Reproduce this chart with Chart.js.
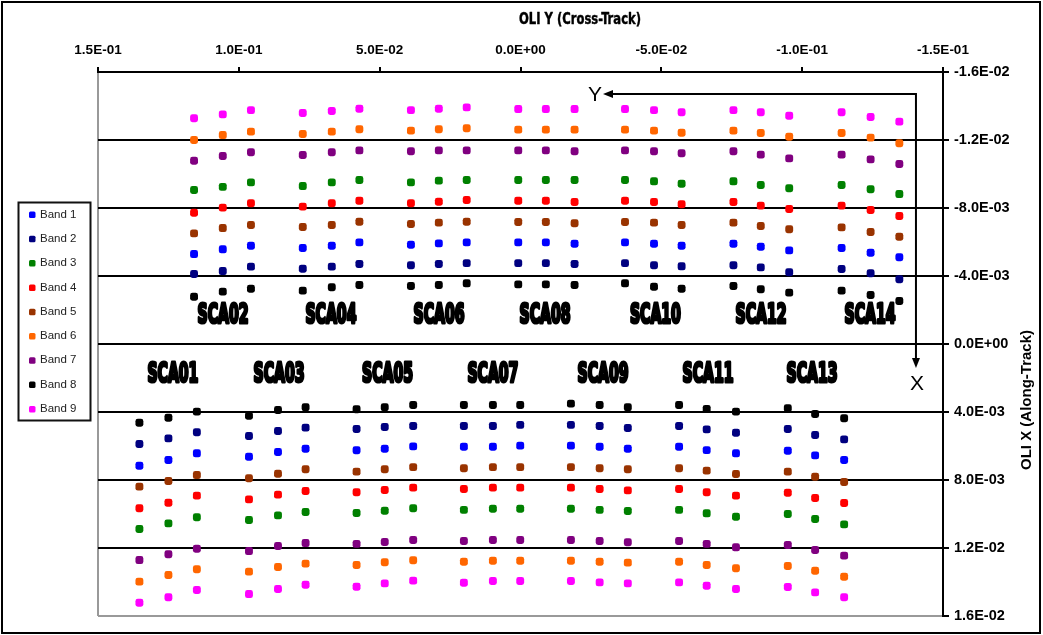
<!DOCTYPE html>
<html><head><meta charset="utf-8">
<script src="https://cdn.jsdelivr.net/npm/chart.js@4.4.1/dist/chart.umd.min.js"></script>
<style>html,body{margin:0;padding:0;background:#fff;}canvas{display:block;}</style>
</head><body>
<canvas id="c" width="1043" height="635"></canvas>
<script>
// Cross-track (OLI Y) position of each detector column: 21 upper (even SCAs) then 21 lower (odd SCAs)
const crossTrack = [
  0.1159, 0.1057, 0.0957, 0.0773, 0.0670, 0.0572, 0.0389, 0.0290, 0.0191, 0.0008, -0.0090,
  -0.0192, -0.0371, -0.0474, -0.0572, -0.0756, -0.0853, -0.0954, -0.1140, -0.1243, -0.1345,
  0.1353, 0.1250, 0.1149, 0.0964, 0.0861, 0.0763, 0.0582, 0.0482, 0.0381, 0.0201, 0.0098,
  0.0001, -0.0179, -0.0281, -0.0381, -0.0563, -0.0661, -0.0765, -0.0949, -0.1046, -0.1149
];
// Along-track (OLI X) position per band, same column order
const band1 = [-0.00529,-0.00557,-0.00578,-0.00565,-0.00578,-0.00598,-0.00584,-0.00592,-0.00598,-0.00598,-0.00598,-0.00590,-0.00598,-0.00590,-0.00578,-0.00590,-0.00572,-0.00551,-0.00565,-0.00537,-0.00510,
  0.00716,0.00682,0.00643,0.00663,0.00635,0.00616,0.00625,0.00616,0.00602,0.00604,0.00604,0.00598,0.00598,0.00604,0.00616,0.00604,0.00624,0.00643,0.00628,0.00655,0.00682];
const band2 = [-0.00412,-0.00429,-0.00455,-0.00443,-0.00455,-0.00471,-0.00463,-0.00471,-0.00476,-0.00476,-0.00476,-0.00471,-0.00476,-0.00463,-0.00457,-0.00463,-0.00451,-0.00422,-0.00441,-0.00416,-0.00381,
  0.00588,0.00555,0.00519,0.00541,0.00512,0.00492,0.00500,0.00488,0.00482,0.00482,0.00482,0.00476,0.00476,0.00482,0.00494,0.00482,0.00502,0.00522,0.00500,0.00535,0.00561];
const band3 = [-0.00906,-0.00924,-0.00951,-0.00929,-0.00951,-0.00965,-0.00951,-0.00961,-0.00965,-0.00965,-0.00965,-0.00965,-0.00965,-0.00957,-0.00943,-0.00957,-0.00935,-0.00916,-0.00935,-0.00910,-0.00882,
  0.01088,0.01055,0.01019,0.01035,0.01008,0.00988,0.00994,0.00981,0.00966,0.00976,0.00969,0.00969,0.00969,0.00976,0.00982,0.00976,0.00996,0.01016,0.01000,0.01029,0.01061];
const band4 = [-0.00772,-0.00802,-0.00828,-0.00808,-0.00828,-0.00843,-0.00828,-0.00837,-0.00847,-0.00843,-0.00843,-0.00835,-0.00843,-0.00835,-0.00822,-0.00835,-0.00814,-0.00794,-0.00814,-0.00788,-0.00753,
  0.00966,0.00934,0.00892,0.00914,0.00886,0.00865,0.00872,0.00859,0.00845,0.00853,0.00845,0.00845,0.00845,0.00853,0.00861,0.00853,0.00872,0.00892,0.00875,0.00906,0.00935];
const band5 = [-0.00651,-0.00682,-0.00700,-0.00688,-0.00700,-0.00719,-0.00706,-0.00714,-0.00719,-0.00718,-0.00718,-0.00710,-0.00718,-0.00714,-0.00700,-0.00714,-0.00694,-0.00675,-0.00686,-0.00659,-0.00631,
  0.00839,0.00806,0.00771,0.00790,0.00763,0.00737,0.00751,0.00737,0.00724,0.00731,0.00724,0.00724,0.00724,0.00731,0.00737,0.00731,0.00745,0.00765,0.00751,0.00781,0.00812];
const band6 = [-0.01200,-0.01229,-0.01249,-0.01235,-0.01249,-0.01263,-0.01255,-0.01263,-0.01269,-0.01261,-0.01261,-0.01261,-0.01261,-0.01255,-0.01243,-0.01255,-0.01241,-0.01219,-0.01241,-0.01214,-0.01181,
  0.01398,0.01359,0.01325,0.01339,0.01312,0.01292,0.01300,0.01284,0.01272,0.01281,0.01275,0.01275,0.01275,0.01281,0.01286,0.01281,0.01300,0.01319,0.01306,0.01334,0.01369];
const band7 = [-0.01078,-0.01106,-0.01128,-0.01112,-0.01128,-0.01139,-0.01134,-0.01139,-0.01139,-0.01139,-0.01139,-0.01134,-0.01139,-0.01134,-0.01122,-0.01134,-0.01114,-0.01092,-0.01114,-0.01086,-0.01059,
  0.01271,0.01237,0.01204,0.01218,0.01188,0.01171,0.01176,0.01165,0.01153,0.01159,0.01153,0.01153,0.01153,0.01159,0.01166,0.01159,0.01176,0.01196,0.01182,0.01212,0.01245];
const band8 = [-0.00278,-0.00308,-0.00325,-0.00314,-0.00334,-0.00347,-0.00341,-0.00347,-0.00357,-0.00351,-0.00351,-0.00347,-0.00357,-0.00337,-0.00325,-0.00341,-0.00322,-0.00302,-0.00314,-0.00288,-0.00253,
  0.00463,0.00434,0.00398,0.00422,0.00388,0.00372,0.00384,0.00372,0.00359,0.00359,0.00359,0.00359,0.00351,0.00359,0.00372,0.00359,0.00382,0.00398,0.00378,0.00412,0.00437];
const band9 = [-0.01328,-0.01351,-0.01376,-0.01359,-0.01371,-0.01384,-0.01376,-0.01384,-0.01392,-0.01382,-0.01382,-0.01382,-0.01382,-0.01376,-0.01363,-0.01376,-0.01363,-0.01343,-0.01363,-0.01335,-0.01308,
  0.01522,0.01490,0.01447,0.01471,0.01441,0.01416,0.01428,0.01408,0.01392,0.01404,0.01394,0.01394,0.01394,0.01402,0.01408,0.01402,0.01422,0.01441,0.01429,0.01461,0.01490];

const bandNames = ['Band 1','Band 2','Band 3','Band 4','Band 5','Band 6','Band 7','Band 8','Band 9'];
const bandValues = [band1, band2, band3, band4, band5, band6, band7, band8, band9];
const bandColors = ['#0000FF','#000080','#008000','#FF0000','#993300','#FF6600','#800080','#000000','#FF00FF'];

const xTickValues = [0.15, 0.10, 0.05, 0, -0.05, -0.10, -0.15];
const xTickLabels = ['1.5E-01','1.0E-01','5.0E-02','0.0E+00','-5.0E-02','-1.0E-01','-1.5E-01'];
const yTickValues = [-0.016,-0.012,-0.008,-0.004,0,0.004,0.008,0.012,0.016];
const yTickLabels = ['-1.6E-02','-1.2E-02','-8.0E-03','-4.0E-03','0.0E+00','4.0E-03','8.0E-03','1.2E-02','1.6E-02'];

// SCA labels (cross-track, along-track)
const scaNames = ['SCA02','SCA04','SCA06','SCA08','SCA10','SCA12','SCA14','SCA01','SCA03','SCA05','SCA07','SCA09','SCA11','SCA13'];
const scaCross = [0.1056,0.0673,0.0289,-0.0087,-0.0479,-0.0854,-0.1241,0.1234,0.0857,0.0472,0.0098,-0.0293,-0.0666,-0.1035];
const scaAlong = [-0.00165,-0.00165,-0.00165,-0.00165,-0.00165,-0.00165,-0.00165,0.00182,0.00182,0.00182,0.00182,0.00182,0.00182,0.00182];

// Coordinate-system arrows (corner, Y arrow tip, X arrow tip)
const arrowCorner = {cross: -0.1404, along: -0.01471};
const arrowYTip = -0.0293;
const arrowXTip = 0.00141;

const datasets = bandNames.map((name, b) => ({
  label: name,
  data: crossTrack.map((c, i) => ({x: c, y: bandValues[b][i]})),
  backgroundColor: bandColors[b],
  borderColor: bandColors[b],
  borderWidth: 0,
  pointStyle: 'rectRounded',
  pointRadius: 4.6,
  showLine: false
}));

const FONT = '"Liberation Sans", Arial, sans-serif';
const NARROW = '"Liberation Sans Narrow", "DejaVu Sans Condensed", "Liberation Sans", sans-serif';

function squish(ctx, text, cx, cy, targetW, font, stroke) {
  ctx.save();
  ctx.font = font;
  const w = ctx.measureText(text).width;
  ctx.translate(cx, cy);
  ctx.scale(targetW / w, 1);
  ctx.textAlign = 'center';
  ctx.textBaseline = 'middle';
  ctx.fillStyle = '#000';
  if (stroke) {
    ctx.lineWidth = stroke; ctx.strokeStyle = '#000'; ctx.lineJoin = 'round';
    ctx.strokeText(text, 0, 0);
  }
  ctx.fillText(text, 0, 0);
  ctx.restore();
}

const decor = {
  id: 'decor',
  afterDatasetsDraw(chart) {
    const ctx = chart.ctx, xs = chart.scales.x, ys = chart.scales.y;
    // SCA labels
    scaNames.forEach((n, i) => {
      squish(ctx, n, xs.getPixelForValue(scaCross[i]), ys.getPixelForValue(scaAlong[i]), 51,
        'bold 26px ' + NARROW, 3.2);
    });
    // arrows
    const cx = xs.getPixelForValue(arrowCorner.cross), cy = ys.getPixelForValue(arrowCorner.along);
    const yx = xs.getPixelForValue(arrowYTip), xy = ys.getPixelForValue(arrowXTip);
    ctx.save();
    ctx.strokeStyle = '#000'; ctx.fillStyle = '#000'; ctx.lineWidth = 2;
    ctx.beginPath(); ctx.moveTo(yx + 8, cy); ctx.lineTo(cx, cy); ctx.lineTo(cx, xy - 8); ctx.stroke();
    ctx.beginPath(); ctx.moveTo(yx, cy); ctx.lineTo(yx + 10, cy - 4); ctx.lineTo(yx + 10, cy + 4); ctx.closePath(); ctx.fill();
    ctx.beginPath(); ctx.moveTo(cx, xy); ctx.lineTo(cx - 4, xy - 10); ctx.lineTo(cx + 4, xy - 10); ctx.closePath(); ctx.fill();
    ctx.font = '21px ' + FONT; ctx.textAlign = 'center'; ctx.textBaseline = 'middle';
    ctx.fillText('Y', yx - 8, cy + 1);
    ctx.fillText('X', cx + 1, xy + 16);
    ctx.restore();
  },
  afterDraw(chart) {
    const ctx = chart.ctx;
    ctx.save();
    // outer frame
    ctx.strokeStyle = '#000'; ctx.lineWidth = 2;
    ctx.strokeRect(2, 2, 1038, 631);
    // axis titles
    squish(ctx, 'OLI Y (Cross-Track)', 580, 20, 122, 'bold 15px ' + NARROW, 0.4);
    ctx.save();
    ctx.translate(1027, 400);
    ctx.rotate(-Math.PI / 2);
    ctx.font = 'bold 15px ' + FONT; ctx.textAlign = 'center'; ctx.textBaseline = 'middle'; ctx.fillStyle = '#000';
    ctx.fillText('OLI X (Along-Track)', 0, 0);
    ctx.restore();
    // legend
    ctx.lineWidth = 2; ctx.strokeStyle = '#111';
    ctx.strokeRect(18.5, 202.5, 72, 218);
    ctx.font = '11.5px ' + FONT; ctx.textAlign = 'left'; ctx.textBaseline = 'middle';
    bandNames.forEach((n, i) => {
      const y = 214.5 + i * 24.3;
      ctx.fillStyle = bandColors[i];
      ctx.beginPath();
      if (ctx.roundRect) ctx.roundRect(29, y - 3, 6.5, 6.5, 1.5); else ctx.rect(29, y - 3, 6.5, 6.5);
      ctx.fill();
      ctx.fillStyle = '#222';
      ctx.fillText(n, 40, y);
    });
    ctx.restore();
  }
};

function pickLabel(values, labels, v) {
  let best = 0;
  values.forEach((t, i) => { if (Math.abs(t - v) < Math.abs(values[best] - v)) best = i; });
  return labels[best];
}

new Chart(document.getElementById('c'), {
  type: 'scatter',
  data: {datasets},
  plugins: [decor],
  options: {
    responsive: false,
    devicePixelRatio: 1,
    animation: false,
    events: [],
    layout: {padding: {left: 98, right: 0, top: 0, bottom: 19}},
    plugins: {legend: {display: false}, tooltip: {enabled: false}, title: {display: false}},
    scales: {
      x: {
        type: 'linear', position: 'top', reverse: true, min: -0.15, max: 0.15,
        afterBuildTicks: s => { s.ticks = xTickValues.map(v => ({value: v})); },
        afterFit: s => { s.height = 72; },
        ticks: {
          padding: 9, color: '#000', maxRotation: 0,
          font: {family: FONT, weight: 'bold', size: 13.5},
          callback: v => pickLabel(xTickValues, xTickLabels, v)
        },
        grid: {
          drawOnChartArea: true, lineWidth: 2, tickLength: 5, tickColor: '#000',
          color: c => (c.tick && Math.abs(c.tick.value - 0.15) < 1e-9) ? '#999' : 'rgba(0,0,0,0)'
        },
        border: {display: true, color: '#000', width: 2}
      },
      y: {
        type: 'linear', position: 'right', reverse: true, min: -0.016, max: 0.016,
        afterBuildTicks: s => { s.ticks = yTickValues.map(v => ({value: v})); },
        afterFit: s => { s.width = 100; },
        ticks: {
          padding: 5, color: '#000',
          font: {family: FONT, weight: 'bold', size: 14.5},
          callback: v => pickLabel(yTickValues, yTickLabels, v)
        },
        grid: {
          drawOnChartArea: true, lineWidth: 2, tickLength: 6, tickColor: '#000',
          color: c => (c.tick && Math.abs(c.tick.value - 0.016) < 1e-9) ? '#999' : '#000'
        },
        border: {display: true, color: '#000', width: 2}
      }
    }
  }
});
</script>
</body></html>
